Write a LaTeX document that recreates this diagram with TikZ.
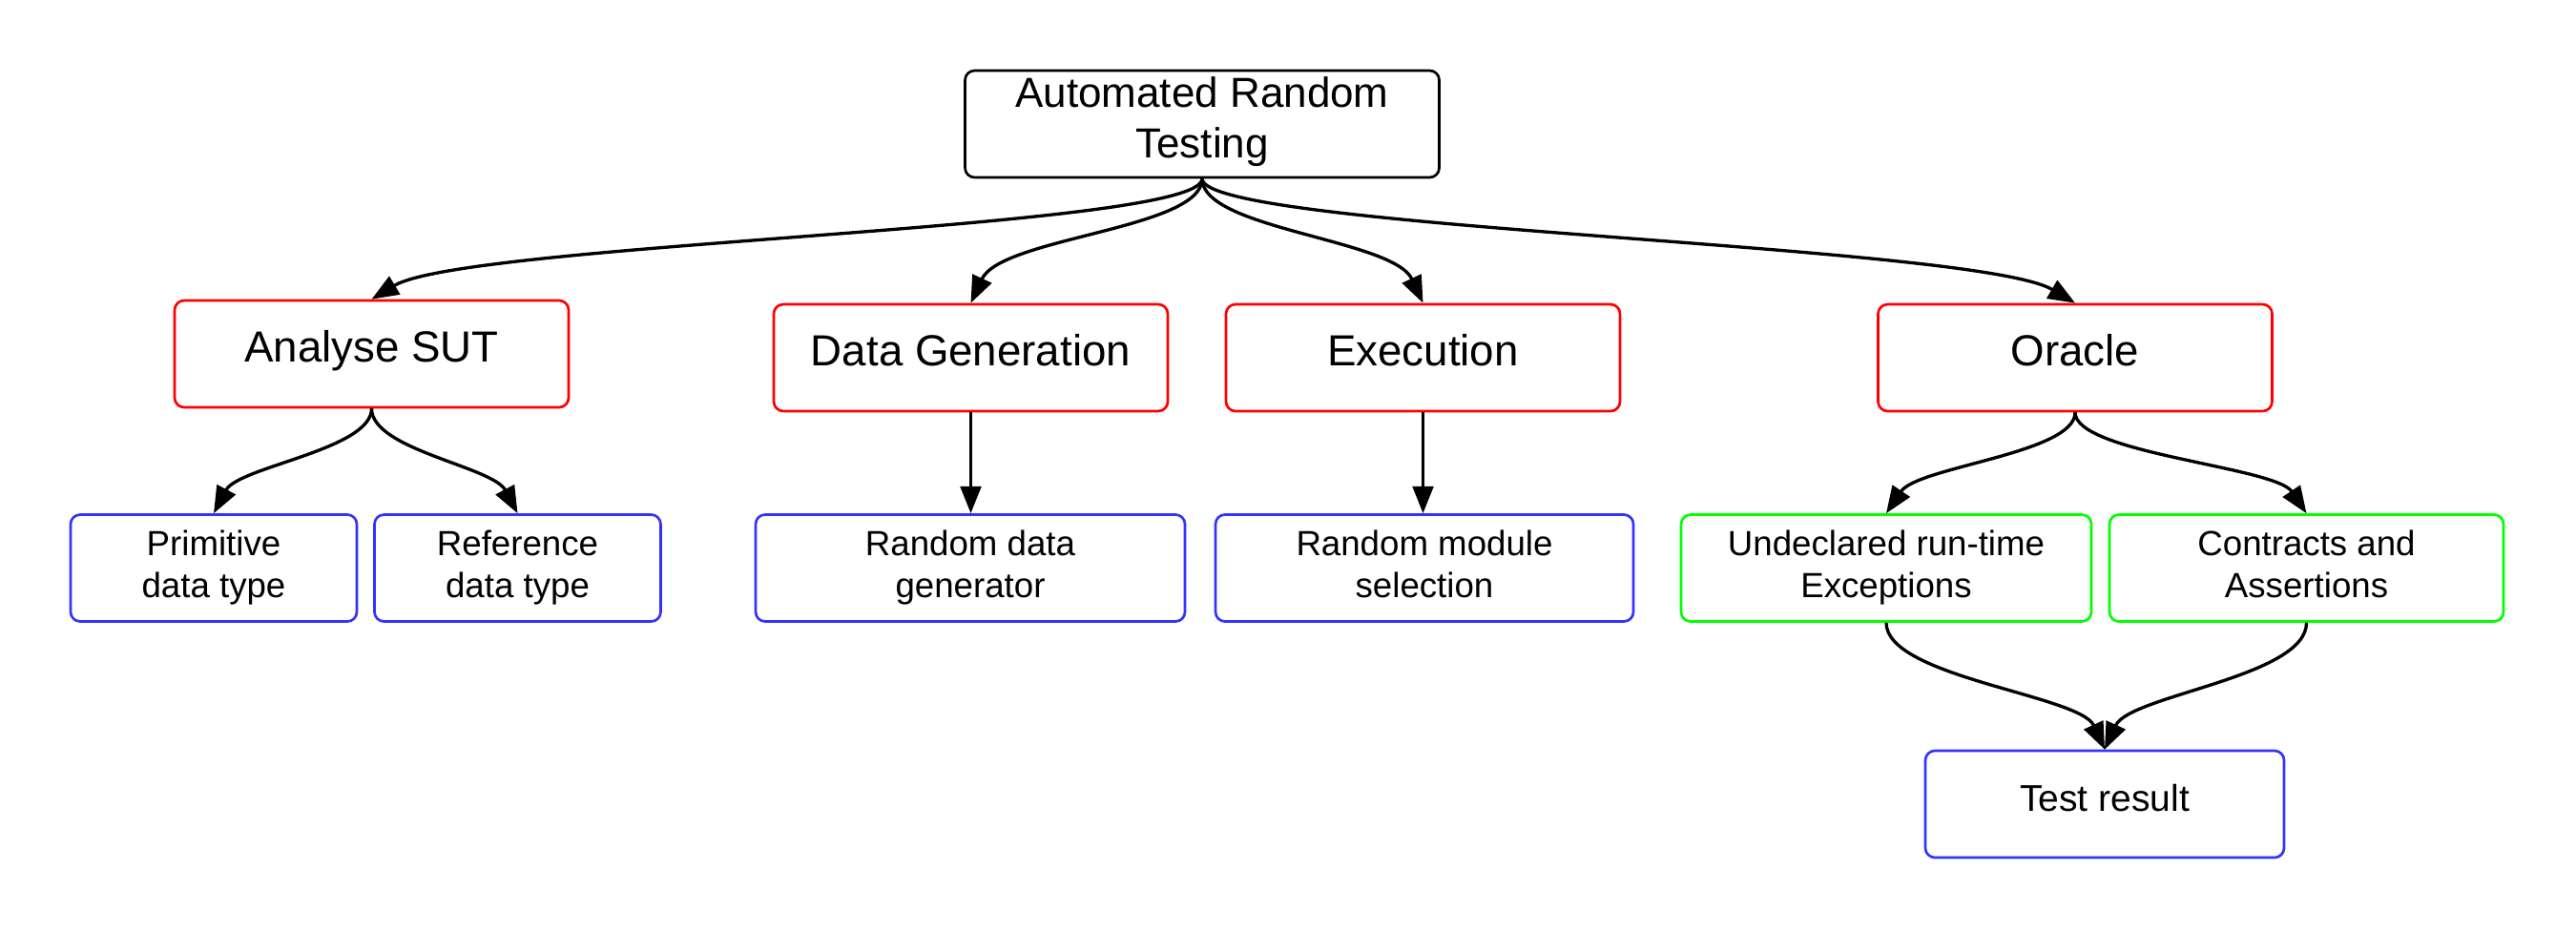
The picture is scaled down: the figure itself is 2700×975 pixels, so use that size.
\documentclass[tikz,border=0pt]{standalone}
\usepackage{fontspec}
\setmainfont{Liberation Sans}
\usetikzlibrary{arrows.meta}
\definecolor{boxred}{HTML}{FF0000}
\definecolor{boxblue}{HTML}{3333FF}
\definecolor{boxgreen}{HTML}{00FF00}
\begin{document}
\begin{tikzpicture}[x=0.3pt,y=-0.3pt,
  box/.style={draw, line width=0.8pt, rounded corners=3pt, minimum height=33.6pt, align=center, inner sep=0pt},
  topbox/.style={box, draw=black, minimum width=149.1pt, text depth=4pt, font=\fontsize{13.2}{16}\selectfont},
  redbox/.style={box, draw=boxred, minimum width=123.9pt, text height=9.8pt, text depth=4.6pt, font=\fontsize{13.7}{16.4}\selectfont},
  bluebox/.style={box, draw=boxblue, text depth=2.4pt, font=\fontsize{11}{13.3}\selectfont},
  greenbox/.style={box, draw=boxgreen, text depth=2.4pt, font=\fontsize{11}{13.3}\selectfont},
  conn/.style={-{Triangle[length=8.5pt,width=6.5pt]}, line width=1pt}
]
\useasboundingbox (0,0) rectangle (2700,975);

\node[topbox] (top) at (1260,130) {Automated Random\\Testing};

\node[redbox] (analyse) at (389.5,371) {Analyse SUT};
\node[redbox] (datagen) at (1017.5,375) {Data Generation};
\node[redbox] (exec) at (1491.5,375) {Execution};
\node[redbox] (oracle) at (2175,375) {Oracle};

\node[bluebox, minimum width=90pt] (prim) at (224,595.5) {Primitive\\data type};
\node[bluebox, minimum width=90pt] (ref) at (542.5,595.5) {Reference\\data type};
\node[bluebox, minimum width=135pt] (rdg) at (1017,595.5) {Random data\\generator};
\node[bluebox, minimum width=131.4pt] (rms) at (1493,595.5) {Random module\\selection};
\node[greenbox, minimum width=129pt] (undecl) at (1977,595.5) {Undeclared run-time\\Exceptions};
\node[greenbox, minimum width=123.9pt] (contr) at (2417.5,595.5) {Contracts and\\Assertions};
\node[bluebox, minimum width=112.8pt, text height=8.4pt, text depth=3.8pt, font=\fontsize{11.7}{14}\selectfont] (test) at (2206,843) {Test result};

\draw[conn] (top.south) .. controls +(0,53) and +(100,-60) .. (analyse.north);
\draw[conn] (top.south) .. controls +(0,53) and +(32,-69) .. (datagen.north);
\draw[conn] (top.south) .. controls +(0,53) and +(-31,-67) .. (exec.north);
\draw[conn] (top.south) .. controls +(0,53) and +(-105,-62) .. (oracle.north);

\draw[conn] (analyse.south) .. controls +(0,43) and +(26,-49) .. (prim.north);
\draw[conn] (analyse.south) .. controls +(0,43) and +(-26,-49) .. (ref.north);

\draw[conn] (datagen.south) -- (datagen.south |- rdg.north);
\draw[conn] (exec.south) -- (exec.south |- rms.north);

\draw[conn] (oracle.south) .. controls +(0,43) and +(33,-49) .. (undecl.north);
\draw[conn] (oracle.south) .. controls +(0,43) and +(-33,-49) .. (contr.north);

\draw[conn] (undecl.south) .. controls +(0,57) and +(-26,-57) .. (test.north);
\draw[conn] (contr.south) .. controls +(0,57) and +(26,-57) .. (test.north);
\end{tikzpicture}
\end{document}
